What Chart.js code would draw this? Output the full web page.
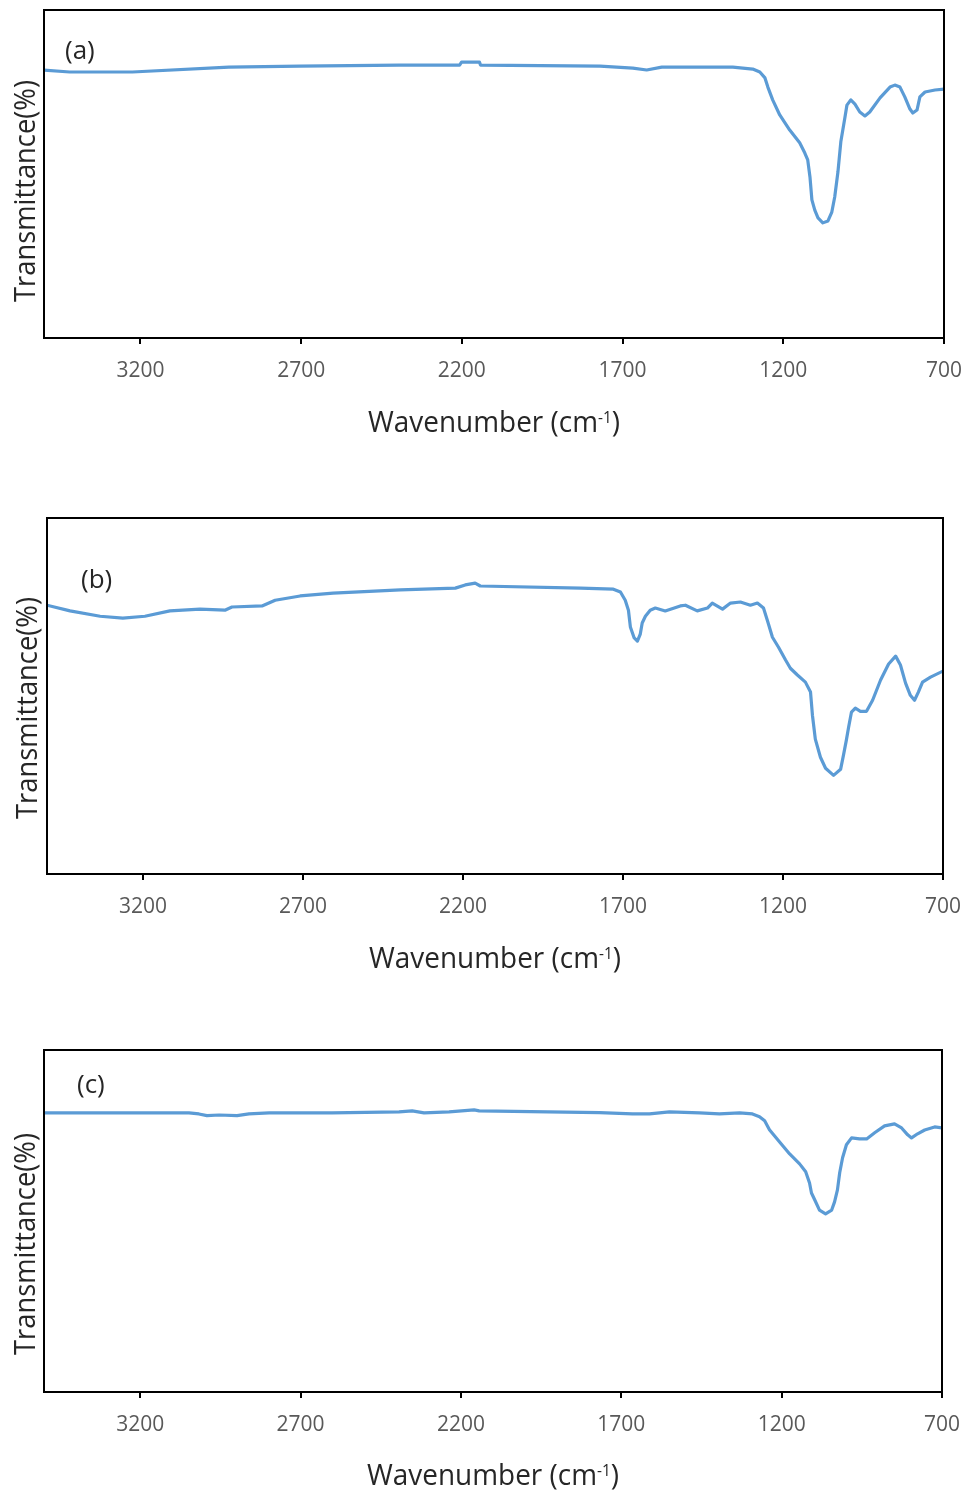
<!DOCTYPE html>
<html>
<head>
<meta charset="utf-8">
<title>FTIR spectra</title>
<script src="https://cdn.jsdelivr.net/npm/chart.js@4.4.1/dist/chart.umd.min.js"></script>
<style>
  html, body { margin: 0; padding: 0; background: #fff; }
  body { width: 967px; height: 1493px; position: relative; overflow: hidden; }
  .panel { position: absolute; left: 0; width: 967px; }
  canvas { display: block; }
</style>
</head>
<body>
<div class="panel" style="top:0;height:470px"><canvas id="chartA" width="967" height="470"></canvas></div>
<div class="panel" style="top:480px;height:520px"><canvas id="chartB" width="967" height="520"></canvas></div>
<div class="panel" style="top:1005px;height:488px"><canvas id="chartC" width="967" height="488"></canvas></div>
<script>
"use strict";

// x axis ticks (cm-1), axis runs from high to low wavenumber
const xTickValues = [3200, 2700, 2200, 1700, 1200, 700];
const panelLabels = ['(a)', '(b)', '(c)'];
const yTitle = 'Transmittance(%)';
const xTitleMain = 'Wavenumber (cm';
const xTitleSup = '-1';
const xTitleEnd = ')';

// spectrum (a)
const wavenumberA = [3500, 3420, 3225, 2925, 2705, 2395, 2207, 2201, 2145, 2142, 1770, 1668, 1625, 1578, 1460,
  1357, 1295, 1273, 1257, 1248, 1233, 1211, 1180, 1149, 1133, 1124, 1117, 1111, 1102, 1092, 1077, 1061, 1049,
  1040, 1030, 1021, 1008, 1002, 990, 977, 962, 946, 931, 899, 868, 853, 837, 822, 806, 797, 784, 775, 759, 728, 700];
const transmittanceA = [81.7, 81.1, 81.1, 82.6, 82.9, 83.2, 83.2, 84.1, 84.1, 83.2, 82.9, 82.3, 81.7, 82.6, 82.6,
  82.6, 82.0, 81.1, 79.3, 76.5, 72.6, 68.0, 63.4, 59.5, 56.4, 54.3, 49.1, 42.1, 39.0, 36.6, 35.1, 35.7, 38.4,
  43.0, 50.6, 59.8, 67.4, 71.0, 72.6, 71.3, 68.9, 67.7, 68.9, 73.2, 76.5, 77.1, 76.5, 73.5, 69.8, 68.6, 69.5, 73.5, 75.0, 75.6, 75.9];

// spectrum (b)
const wavenumberB = [3500, 3428, 3334, 3263, 3194, 3116, 3022, 2944, 2922, 2828, 2787, 2709, 2606, 2396, 2224,
  2193, 2162, 2146, 1833, 1730, 1708, 1693, 1683, 1677, 1665, 1655, 1646, 1640, 1630, 1615, 1599, 1568, 1521,
  1505, 1468, 1436, 1421, 1389, 1364, 1333, 1302, 1280, 1261, 1249, 1233, 1214, 1192, 1177, 1155, 1130, 1114,
  1108, 1099, 1083, 1067, 1042, 1020, 1011, 1002, 995, 986, 974, 958, 939, 920, 895, 870, 848, 833, 817, 802,
  789, 777, 764, 739, 700];
const transmittanceB = [75.5, 73.9, 72.4, 71.9, 72.4, 73.9, 74.4, 74.1, 75.0, 75.3, 76.9, 78.1, 78.9, 79.8, 80.3,
  81.2, 81.7, 80.9, 80.3, 80.0, 79.2, 76.9, 74.1, 69.4, 66.3, 65.4, 67.4, 70.5, 72.4, 74.1, 74.7, 73.9, 75.3,
  75.5, 73.9, 74.7, 76.1, 74.4, 76.1, 76.4, 75.5, 76.1, 74.7, 71.3, 66.5, 63.7, 60.1, 57.8, 55.9, 53.9, 51.1,
  44.6, 37.9, 32.8, 29.7, 27.7, 29.4, 33.4, 37.6, 41.2, 45.5, 46.6, 45.7, 45.7, 48.8, 54.5, 59.0, 61.2, 58.7, 53.6, 50.2,
  48.8, 51.1, 53.9, 55.3, 57.0];

// spectrum (c)
const wavenumberC = [3500, 3329, 3048, 3017, 2992, 2954, 2898, 2861, 2798, 2602, 2393, 2352, 2315, 2237, 2159,
  2143, 1768, 1665, 1612, 1550, 1456, 1394, 1331, 1291, 1269, 1253, 1238, 1207, 1175, 1144, 1125, 1113, 1107,
  1097, 1082, 1063, 1044, 1035, 1026, 1019, 1010, 998, 982, 957, 935, 910, 879, 848, 826, 807, 795, 776, 754, 723, 700];
const transmittanceC = [81.6, 81.6, 81.6, 81.3, 80.8, 81.0, 80.8, 81.3, 81.6, 81.6, 81.9, 82.2, 81.6, 81.9, 82.5,
  82.2, 81.7, 81.3, 81.3, 81.9, 81.6, 81.3, 81.6, 81.3, 80.5, 79.3, 76.7, 73.2, 69.6, 66.7, 64.4, 61.1, 58.2,
  56.2, 53.2, 52.1, 53.2, 55.6, 59.1, 64.1, 68.5, 72.3, 74.3, 74.0, 74.0, 75.8, 77.8, 78.4, 77.2, 75.2, 74.3, 75.5, 76.6, 77.5, 77.2];

Chart.defaults.font.family = '"Open Sans", "Noto Sans", sans-serif';

const FONT = '"Open Sans", "Noto Sans", sans-serif';
const TEXT_DARK = '#262626';

// frame around the plot area plus titles and panel letter
const framePlugin = {
  id: 'frame',
  afterDraw(chart, args, opts) {
    const ctx = chart.ctx;
    const a = chart.chartArea;
    ctx.save();
    ctx.strokeStyle = '#000';
    ctx.lineWidth = 2;
    ctx.strokeRect(a.left, a.top, a.right - a.left, a.bottom - a.top);

    ctx.fillStyle = TEXT_DARK;
    ctx.textBaseline = 'alphabetic';

    // panel letter
    ctx.font = '26px ' + FONT;
    ctx.textAlign = 'left';
    ctx.fillText(opts.label, opts.labelX, opts.labelY);

    // y title, rotated
    ctx.save();
    ctx.font = '30px ' + FONT;
    const yw = ctx.measureText(yTitle).width;
    ctx.translate(opts.yTitleX, opts.yTitleY);
    ctx.rotate(-Math.PI / 2);
    ctx.scale(opts.yTitleWidth / yw, 1);
    ctx.textAlign = 'center';
    ctx.fillText(yTitle, 0, 0);
    ctx.restore();

    // x title with superscript
    ctx.save();
    ctx.font = '29px ' + FONT;
    const w1 = ctx.measureText(xTitleMain).width;
    const w3 = ctx.measureText(xTitleEnd).width;
    ctx.font = '16px ' + FONT;
    const w2 = ctx.measureText(xTitleSup).width;
    const sx = opts.xTitleWidth / (w1 + w2 + w3);
    ctx.translate((a.left + a.right) / 2 - opts.xTitleWidth / 2, opts.xTitleY);
    ctx.scale(sx, 1);
    ctx.textAlign = 'left';
    ctx.font = '29px ' + FONT;
    ctx.fillText(xTitleMain, 0, 0);
    ctx.fillText(xTitleEnd, w1 + w2, 0);
    ctx.font = '16px ' + FONT;
    ctx.fillText(xTitleSup, w1, -9);
    ctx.restore();

    ctx.restore();
  }
};

function makeChart(canvasId, wavenumbers, transmittance, panel) {
  const points = wavenumbers.map((w, i) => ({ x: w, y: transmittance[i] }));
  return new Chart(document.getElementById(canvasId), {
    type: 'line',
    data: {
      datasets: [{
        data: points,
        borderColor: '#5B9BD5',
        borderWidth: 3.2,
        pointRadius: 0,
        tension: 0,
        borderJoinStyle: 'round',
        borderCapStyle: 'round',
        fill: false
      }]
    },
    options: {
      responsive: false,
      animation: false,
      events: [],
      layout: { padding: { top: panel.padTop, left: panel.padLeft, right: panel.padRight, bottom: 0 } },
      scales: {
        x: {
          type: 'linear',
          reverse: true,
          min: 700,
          max: 3500,
          afterBuildTicks: scale => { scale.ticks = xTickValues.map(v => ({ value: v })); },
          afterFit: scale => {
            // fixed axis band, no extra room for the end labels
            scale.height = panel.axisHeight;
            scale.paddingLeft = 0;
            scale.paddingRight = 0;
          },
          border: { display: false },
          grid: { display: true, drawOnChartArea: false, drawTicks: true, tickLength: 6, color: '#000', lineWidth: 2 },
          ticks: {
            autoSkip: false,
            maxRotation: 0,
            padding: 14,
            color: '#595959',
            font: { size: 21 },
            callback: v => String(v)
          }
        },
        y: { display: false, min: 0, max: 100 }
      },
      plugins: {
        legend: { display: false },
        tooltip: { enabled: false },
        frame: {
          label: panel.label,
          labelX: panel.labelX,
          labelY: panel.labelY,
          yTitleX: panel.yTitleX,
          yTitleY: panel.yTitleY,
          yTitleWidth: 222,
          xTitleY: panel.xTitleY,
          xTitleWidth: 252
        }
      }
    },
    plugins: [framePlugin]
  });
}

makeChart('chartA', wavenumberA, transmittanceA, {
  label: panelLabels[0], padTop: 10, padLeft: 44, padRight: 23, axisHeight: 132,
  labelX: 65, labelY: 59, yTitleX: 35, yTitleY: 191, xTitleY: 432
});
makeChart('chartB', wavenumberB, transmittanceB, {
  label: panelLabels[1], padTop: 38, padLeft: 47, padRight: 24, axisHeight: 126,
  labelX: 81, labelY: 108, yTitleX: 37, yTitleY: 228, xTitleY: 488
});
makeChart('chartC', wavenumberC, transmittanceC, {
  label: panelLabels[2], padTop: 45, padLeft: 44, padRight: 25, axisHeight: 101,
  labelX: 77, labelY: 88, yTitleX: 35, yTitleY: 239, xTitleY: 480
});
</script>
</body>
</html>
